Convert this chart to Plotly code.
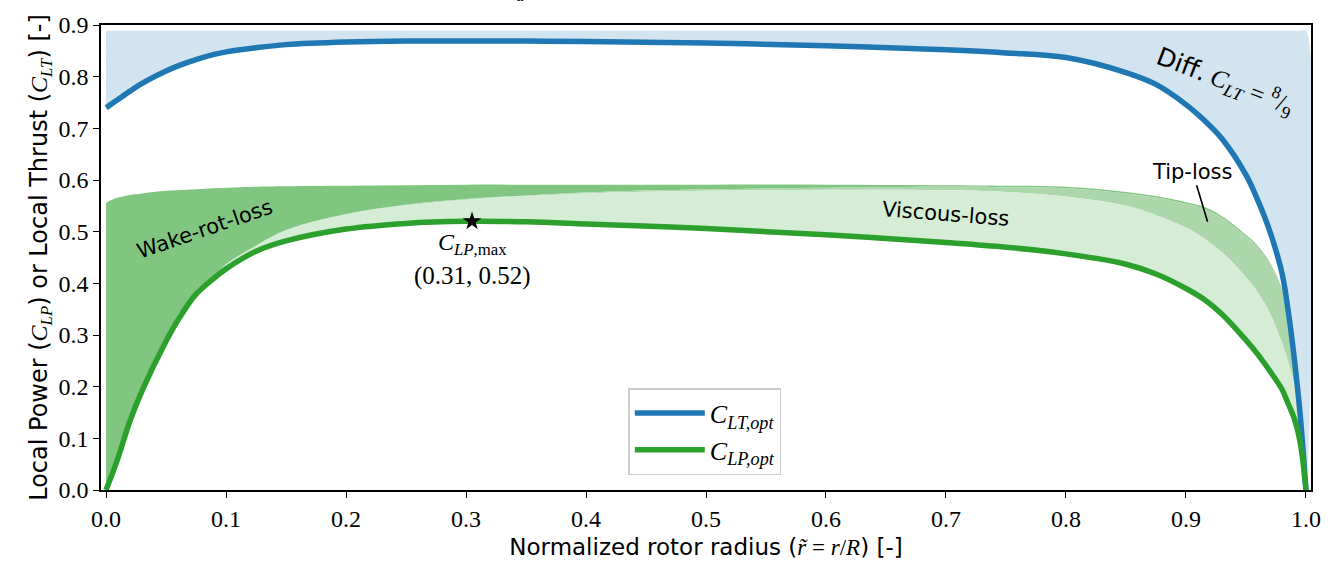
import plotly.graph_objects as go

# ---- data ----
r = [0, 0.002, 0.005, 0.01, 0.02, 0.03, 0.05, 0.06, 0.075, 0.09, 0.1, 0.125, 0.15, 0.2, 0.25,
     0.3, 0.35, 0.4, 0.5, 0.6, 0.7, 0.75, 0.8, 0.85, 0.875, 0.9, 0.915, 0.93, 0.95, 0.96,
     0.97, 0.98, 0.985, 0.99, 0.995, 1.0]

c_lt_opt = [0.740, 0.743, 0.748, 0.756, 0.772, 0.787, 0.811, 0.821, 0.833, 0.843, 0.848, 0.856,
            0.862, 0.867, 0.869, 0.869, 0.869, 0.868, 0.865, 0.860, 0.852, 0.846, 0.837, 0.808,
            0.785, 0.746, 0.716, 0.680, 0.610, 0.560, 0.500, 0.420, 0.350, 0.260, 0.150, 0.0]

c_lp_opt = [0.0, 0.012, 0.030, 0.062, 0.134, 0.192, 0.288, 0.329, 0.379, 0.410, 0.428, 0.462,
            0.482, 0.505, 0.516, 0.520, 0.519, 0.515, 0.506, 0.494, 0.479, 0.470, 0.457, 0.437,
            0.418, 0.390, 0.369, 0.340, 0.290, 0.262, 0.230, 0.195, 0.168, 0.140, 0.095, 0.0]

# upper envelope (no wake rotation)
c_lp_top = [0.555, 0.559, 0.562, 0.566, 0.571, 0.574, 0.579, 0.580, 0.582, 0.584, 0.585, 0.587,
            0.588, 0.589, 0.590, 0.591, 0.591, 0.591, 0.591, 0.591, 0.590, 0.589, 0.587, 0.577,
            0.569, 0.557, 0.548, 0.530, 0.494, 0.472, 0.440, 0.390, 0.350, 0.280, 0.167, 0.0]

# with wake rotation
c_lp_wake = [0.0, 0.012, 0.030, 0.063, 0.136, 0.195, 0.292, 0.332, 0.386, 0.414, 0.437, 0.473,
             0.503, 0.534, 0.552, 0.563, 0.570, 0.576, 0.582, 0.585, 0.587, 0.586, 0.584, 0.574,
             0.566, 0.554, 0.545, 0.527, 0.491, 0.469, 0.437, 0.387, 0.347, 0.277, 0.164, 0.0]

# with wake rotation + tip loss
c_lp_tip = [0.0, 0.012, 0.030, 0.063, 0.136, 0.195, 0.292, 0.332, 0.386, 0.414, 0.436, 0.472,
            0.502, 0.533, 0.551, 0.562, 0.569, 0.574, 0.579, 0.581, 0.580, 0.577, 0.568, 0.550,
            0.532, 0.508, 0.487, 0.460, 0.412, 0.382, 0.342, 0.285, 0.250, 0.207, 0.150, 0.0]

diffuser_clt = 8 / 9
clp_max = (0.305, 0.52)

x_ticks = [0.0, 0.1, 0.2, 0.3, 0.4, 0.5, 0.6, 0.7, 0.8, 0.9, 1.0]
y_ticks = [0.0, 0.1, 0.2, 0.3, 0.4, 0.5, 0.6, 0.7, 0.8, 0.9]

BLUE = "#1f77b4"
GREEN = "#2ca02c"
SERIF = "Liberation Serif"
SANS = "DejaVu Sans"
SMOOTH = 1.0


def math(s):
    return f"<span style=\"font-family:'{SERIF}'\">{s}</span>"


fig = go.Figure()


def band(upper, lower, color):
    fig.add_trace(go.Scatter(
        x=r + r[::-1], y=upper + lower[::-1], fill="toself", fillcolor=color,
        mode="lines", line=dict(width=0, shape="spline", smoothing=SMOOTH),
        hoverinfo="skip", showlegend=False))


band([diffuser_clt] * len(r), c_lt_opt, "#d2e4f0")
band(c_lp_top, c_lp_wake, "#80c680")
band(c_lp_wake, c_lp_tip, "#abd7ab")
band(c_lp_tip, c_lp_opt, "#d5ecd5")

fig.add_trace(go.Scatter(
    x=r, y=c_lt_opt, mode="lines", name="<i>C</i><sub><i>LT,opt</i></sub>",
    line=dict(color=BLUE, width=5.5, shape="spline", smoothing=SMOOTH)))
fig.add_trace(go.Scatter(
    x=r, y=c_lp_opt, mode="lines", name="<i>C</i><sub><i>LP,opt</i></sub>",
    line=dict(color=GREEN, width=5.5, shape="spline", smoothing=SMOOTH)))
fig.add_trace(go.Scatter(
    x=[clp_max[0]], y=[clp_max[1]], mode="markers",
    marker=dict(symbol="star", size=14, color="black"), showlegend=False))

ann = []
ann.append(dict(x=clp_max[0], y=0.476, xref="x", yref="y", showarrow=False,
                text="<i>C</i><sub><i>LP</i>,max</sub>",
                font=dict(family=SERIF, size=24, color="black")))
ann.append(dict(x=clp_max[0], y=0.414, xref="x", yref="y", showarrow=False,
                text="(0.31, 0.52)",
                font=dict(family=SERIF, size=25, color="black")))
ann.append(dict(x=0.0825, y=0.505, xref="x", yref="y", showarrow=False,
                text="Wake-rot-loss", textangle=-19,
                font=dict(family=SANS, size=21, color="black")))
ann.append(dict(x=0.70, y=0.534, xref="x", yref="y", showarrow=False,
                text="Viscous-loss", textangle=4.5,
                font=dict(family=SANS, size=21, color="black")))
ann.append(dict(x=0.918, y=0.519, xref="x", yref="y", showarrow=True,
                ax=-15, ay=-50, arrowhead=0, arrowwidth=1.6, arrowcolor="black",
                text="Tip-loss", standoff=0,
                font=dict(family=SANS, size=21, color="black")))
ann.append(dict(x=0.933, y=0.792, xref="x", yref="y", showarrow=False,
                text=("<span style=\"font-family:'DejaVu Sans'\">Diff.</span> "
                      "<i>C</i><sub><i>LT</i></sub> = <sup>8</sup>/<sub>9</sub>"),
                textangle=21,
                font=dict(family=SERIF, size=25, color="black")))
ann.append(dict(x=0.34, y=1.075, xref="paper", yref="paper", showarrow=False,
                text="<i>C</i><sub><i>a</i></sub>", yanchor="middle",
                font=dict(family=SERIF, size=24, color="black")))

x_title = ("Normalized rotor radius ("
           + math("<i>r̃</i> = <i>r</i>/<i>R</i>") + ") [-]")
y_title = ("Local Power (" + math("<i>C</i><sub><i>LP</i></sub>") + ") or Local Thrust ("
           + math("<i>C</i><sub><i>LT</i></sub>") + ") [-]")

fig.update_layout(
    width=1344, height=575,
    margin=dict(l=101, r=33, t=21, b=85),
    paper_bgcolor="white", plot_bgcolor="white",
    annotations=ann,
    legend=dict(x=0.499, y=0.032, xanchor="center", yanchor="bottom",
                bgcolor="rgba(255,255,255,0.85)", bordercolor="#cccccc", borderwidth=1.5,
                font=dict(family=SERIF, size=26, color="black"), itemwidth=70,
                tracegroupgap=4),
    xaxis=dict(range=[-0.0042, 1.0042], tickvals=x_ticks,
               ticktext=[f"{v:.1f}" for v in x_ticks],
               showgrid=False, zeroline=False, showline=True, linecolor="black",
               linewidth=1.6, mirror=True, ticks="outside", ticklen=6, tickwidth=1.3,
               tickcolor="black", tickfont=dict(family=SERIF, size=24, color="black"),
               title=dict(text=x_title,
                          font=dict(family=SANS, size=23, color="black"), standoff=8)),
    yaxis=dict(range=[0, 0.9], tickvals=y_ticks,
               ticktext=[f"{v:.1f}" for v in y_ticks],
               showgrid=False, zeroline=False, showline=True, linecolor="black",
               linewidth=1.6, mirror=True, ticks="outside", ticklen=6, tickwidth=1.3,
               tickcolor="black", tickfont=dict(family=SERIF, size=24, color="black"),
               title=dict(text=y_title,
                          font=dict(family=SANS, size=24, color="black"), standoff=4)),
)

fig.write_html("out.html")
